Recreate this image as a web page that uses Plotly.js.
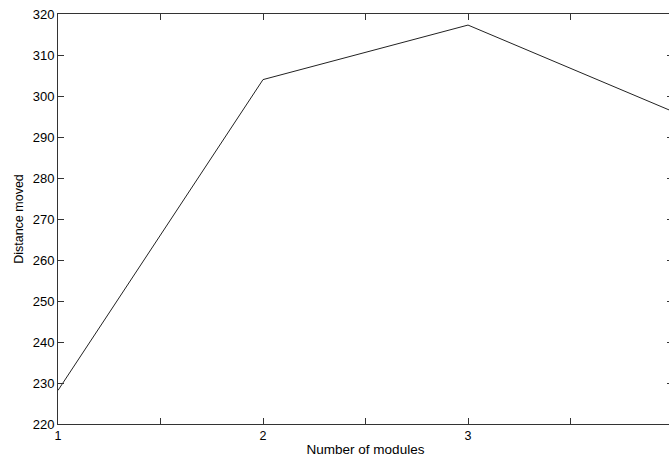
<!DOCTYPE html>
<html>
<head>
<meta charset="utf-8">
<script src="https://cdn.plot.ly/plotly-3.0.1.min.js"></script>
<style>
html,body{margin:0;padding:0;overflow:hidden;background:#fff;}
#chart{width:700px;height:457px;}
</style>
</head>
<body>
<div id="chart"></div>
<script>
const modules = [1, 2, 3, 4];
const distance = [228.2, 304.0, 317.3, 296.2];
const xTickVals = [1, 1.5, 2, 2.5, 3, 3.5, 4];
const xTickText = ['1', '', '2', '', '3', '', '4'];
const yTickVals = [220, 230, 240, 250, 260, 270, 280, 290, 300, 310, 320];

const trace = {
  x: modules,
  y: distance,
  type: 'scatter',
  mode: 'lines',
  line: {color: '#222222', width: 1},
  hoverinfo: 'none'
};

const layout = {
  width: 700,
  height: 457,
  margin: {l: 58, r: 27, t: 14, b: 33},
  paper_bgcolor: '#ffffff',
  plot_bgcolor: '#ffffff',
  showlegend: false,
  font: {family: 'Liberation Sans, Arial, sans-serif', color: '#000'},
  xaxis: {
    range: [1, 4],
    tickmode: 'array',
    tickvals: xTickVals,
    ticktext: xTickText,
    ticks: 'inside',
    ticklen: 6,
    tickcolor: '#333',
    tickwidth: 1,
    showline: true,
    linecolor: '#333',
    linewidth: 1,
    mirror: 'ticks',
    showgrid: false,
    zeroline: false,
    tickfont: {size: 12.5, color: '#000'},
    title: {text: 'Number of modules', font: {size: 13.5, color: '#000'}, standoff: 4}
  },
  yaxis: {
    range: [220, 320],
    tickmode: 'array',
    tickvals: yTickVals,
    ticks: 'inside',
    ticklen: 6,
    tickcolor: '#333',
    tickwidth: 1,
    showline: true,
    linecolor: '#333',
    linewidth: 1,
    mirror: 'ticks',
    showgrid: false,
    zeroline: false,
    tickfont: {size: 13, color: '#000'},
    title: {text: 'Distance moved', font: {size: 12.5, color: '#000'}, standoff: 6}
  }
};

Plotly.newPlot('chart', [trace], layout, {staticPlot: true, displayModeBar: false});
</script>
</body>
</html>
